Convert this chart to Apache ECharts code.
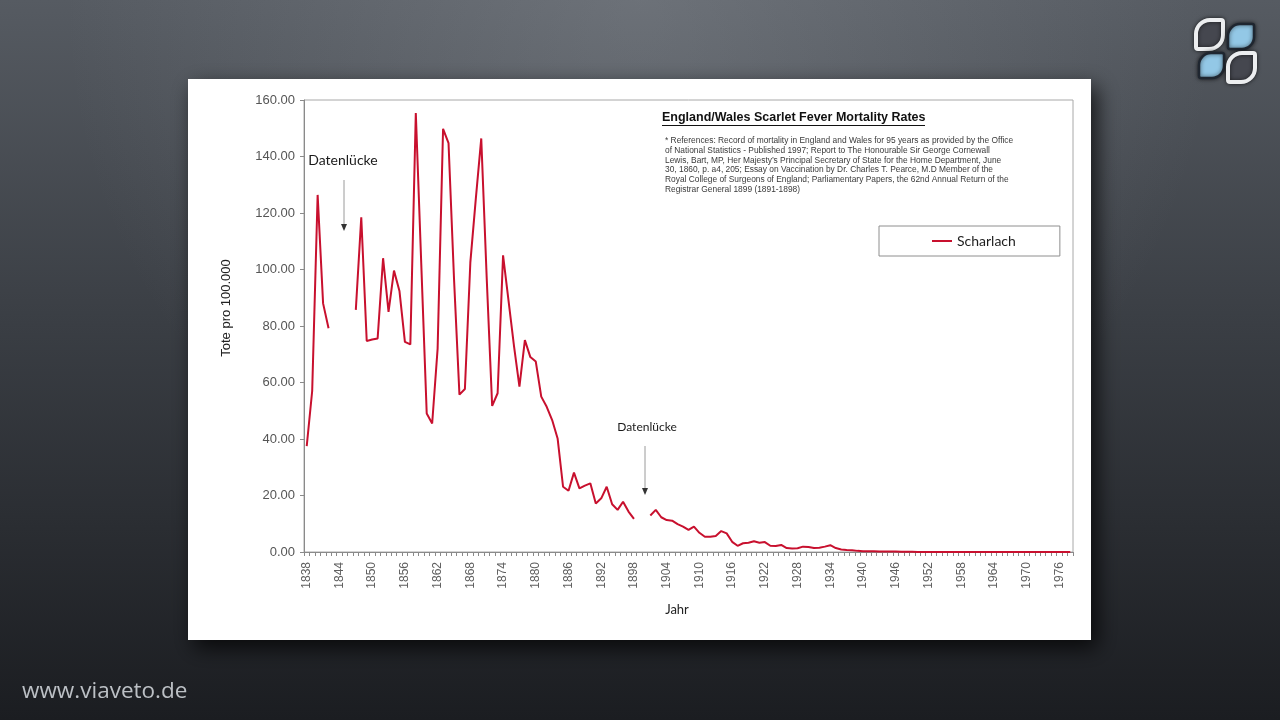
<!DOCTYPE html>
<html>
<head>
<meta charset="utf-8">
<script src="https://cdn.jsdelivr.net/npm/echarts@6/dist/echarts.min.js"></script>
<style>
html,body{margin:0;padding:0;background:#2b2e34;}
#c{width:1280px;height:720px;}
</style>
</head>
<body>
<div id="c"></div>
<script>
// ---- Data ----
const firstYear = 1838;
const lastYear = 1978;
const years = [];
for (let y = firstYear; y <= lastYear; y++) years.push(String(y));

// Scarlet fever deaths per 100,000 (England/Wales), null = data gap
const scharlach = [
  37.5, 57, 126.4, 88, 79.2,            // 1838-1842
  null, null, null, null,               // 1843-1846 gap
  85.7, 118.5, 74.7, 75.2, 75.6,        // 1847-1851
  104, 85, 99.6, 92.4, 74.4, 73.5,      // 1852-1857
  155.4, 102, 49, 45.5, 72,             // 1858-1862
  149.8, 144.7, 97, 55.7, 57.7,         // 1863-1867
  102.5, 125, 146.4, 97, 51.7,          // 1868-1872
  56.2, 105, 89, 73, 58.5,              // 1873-1877
  75, 69, 67.4, 55, 51.4,               // 1878-1882
  46.7, 40.2, 23.1, 21.7, 28.1,         // 1883-1887
  22.5, 23.5, 24.3, 17.2, 19,           // 1888-1892
  23.1, 16.9, 14.9, 17.8, 14.3, 11.7,   // 1893-1898
  null, null,                           // 1899-1900 gap
  12.9, 14.9, 12.3, 11.3, 11.1,         // 1901-1905
  9.9, 9.0, 7.8, 9.0, 6.8,              // 1906-1910
  5.4, 5.4, 5.7, 7.4, 6.6,              // 1911-1915
  3.6, 2.2, 3.1, 3.3, 3.8,              // 1916-1920
  3.3, 3.5, 2.2, 2.1, 2.5,              // 1921-1925
  1.4, 1.2, 1.3, 1.9, 1.8,              // 1926-1930
  1.4, 1.5, 1.9, 2.4, 1.4,              // 1931-1935
  0.9, 0.7, 0.6, 0.4, 0.3,              // 1936-1940
  0.3, 0.25, 0.2, 0.2, 0.2, 0.15,       // 1941-1946
  0.08, 0.06, 0.05, 0.04, 0.03,         // 1947-1951
  0.03, 0.02, 0.02, 0.02, 0.01,         // 1952-1956
  0.01, 0.01, 0.01, 0.01, 0.01,         // 1957-1961
  0.01, 0.01, 0.01, 0.01, 0.01,         // 1962-1966
  0.01, 0.01, 0.01, 0.01, 0.01,         // 1967-1971
  0.01, 0.01, 0.01, 0.01, 0.01,         // 1972-1976
  0.01, 0.01                            // 1977-1978
];

const yMin = 0, yMax = 160, yStep = 20;

const titleText = 'England/Wales Scarlet Fever Mortality Rates';
const refLines = [
  '* References: Record of mortality in England and Wales for 95 years as provided by the Office',
  'of National Statistics - Published 1997; Report to The Honourable Sir George Cornewall',
  'Lewis, Bart, MP, Her Majesty\u2019s Principal Secretary of State for the Home Department, June',
  '30, 1860, p. a4, 205; Essay on Vaccination by Dr. Charles T. Pearce, M.D Member of the',
  'Royal College of Surgeons of England; Parliamentary Papers, the 62nd Annual Return of the',
  'Registrar General 1899 (1891-1898)'
];
const gapLabel = 'Datenl\u00fccke';
const seriesName = 'Scharlach';
const yAxisTitle = 'Tote pro 100.000';
const xAxisTitle = 'Jahr';
const watermark = 'www.viaveto.de';

// ---- Chart ----
const chart = echarts.init(document.getElementById('c'), null, {renderer: 'canvas'});

const refGraphics = refLines.map((t, i) => ({
  type: 'text', z: 10,
  style: {text: t, x: 665, y: 141 + i * 9.7, align: 'left', verticalAlign: 'middle',
          font: '8.4px "Liberation Sans", Arial, sans-serif', fill: '#3a3a3a'}
}));

const option = {
  animation: false,
  backgroundColor: {
    type: 'linear', x: 0, y: 0, x2: 0, y2: 1,
    colorStops: [
      {offset: 0, color: '#565b62'},
      {offset: 0.45, color: '#3a3e44'},
      {offset: 1, color: '#1b1d21'}
    ]
  },
  grid: {
    left: 304, top: 100, width: 769, height: 452,
    show: true, backgroundColor: '#ffffff', borderColor: '#a8a8a8', borderWidth: 1
  },
  legend: {
    left: 879, top: 226,
    data: [{name: seriesName, icon: 'rect'}],
    itemWidth: 20, itemHeight: 2,
    padding: [8, 44, 8, 53],
    borderColor: '#8e8e8e', borderWidth: 1, borderRadius: 0,
    backgroundColor: '#ffffff',
    textStyle: {fontFamily: 'Lato, sans-serif', fontSize: 14, color: '#1e1e1e', lineHeight: 14}
  },
  xAxis: {
    type: 'category', data: years, boundaryGap: true,
    axisLine: {lineStyle: {color: '#8a8a8a', width: 1}},
    axisTick: {show: true, interval: 0, length: 4, lineStyle: {color: '#8a8a8a'}},
    axisLabel: {interval: 5, rotate: 90, margin: 10, color: '#606060',
                fontFamily: '"Liberation Sans", Arial, sans-serif', fontSize: 12},
    splitLine: {show: false}
  },
  yAxis: {
    type: 'value', min: yMin, max: yMax, interval: yStep,
    axisLine: {show: true, lineStyle: {color: '#8a8a8a', width: 1}},
    axisTick: {show: true, length: 4, lineStyle: {color: '#8a8a8a'}},
    axisLabel: {formatter: v => v.toFixed(2), margin: 9, color: '#555',
                fontFamily: '"Liberation Sans", Arial, sans-serif', fontSize: 13},
    splitLine: {show: false}
  },
  series: [{
    name: seriesName, type: 'line', data: scharlach,
    symbol: 'none', showSymbol: false, connectNulls: false,
    lineStyle: {color: '#c8102e', width: 2},
    itemStyle: {color: '#c8102e'}
  }],
  graphic: [
    // top highlight on background
    {type: 'rect', z: -200, silent: true,
     shape: {x: 0, y: 0, width: 1280, height: 720},
     style: {fill: {type: 'radial', x: 0.5, y: 0.0, r: 0.8,
       colorStops: [{offset: 0, color: 'rgba(160,165,172,0.30)'}, {offset: 1, color: 'rgba(160,165,172,0)'}]}}},
    // white panel with shadow
    {type: 'rect', z: -100, silent: true,
     shape: {x: 188, y: 79, width: 903, height: 561},
     style: {fill: '#ffffff', shadowBlur: 20, shadowColor: 'rgba(0,0,0,0.75)', shadowOffsetX: 6, shadowOffsetY: 8}},
    // title
    {type: 'text', z: 10,
     style: {text: titleText, x: 662, y: 118, align: 'left', verticalAlign: 'middle',
             font: 'bold 12.5px "Liberation Sans", Arial, sans-serif', fill: '#111'}},
    {type: 'line', z: 10, shape: {x1: 662, y1: 125.5, x2: 925, y2: 125.5}, style: {stroke: '#111', lineWidth: 1}},
    ...refGraphics,
    // gap annotation 1
    {type: 'text', z: 10,
     style: {text: gapLabel, x: 343, y: 160, align: 'center', verticalAlign: 'middle',
             font: '14px Lato, sans-serif', fill: '#1a1a1a'}},
    {type: 'line', z: 10, shape: {x1: 344, y1: 180, x2: 344, y2: 226}, style: {stroke: '#9a9a9a', lineWidth: 1}},
    {type: 'polygon', z: 10, shape: {points: [[341, 224], [347, 224], [344, 231]]}, style: {fill: '#333'}},
    // gap annotation 2
    {type: 'text', z: 10,
     style: {text: gapLabel, x: 647, y: 427, align: 'center', verticalAlign: 'middle',
             font: '12px Lato, sans-serif', fill: '#1a1a1a'}},
    {type: 'line', z: 10, shape: {x1: 645, y1: 446, x2: 645, y2: 490}, style: {stroke: '#9a9a9a', lineWidth: 1}},
    {type: 'polygon', z: 10, shape: {points: [[642, 488], [648, 488], [645, 495]]}, style: {fill: '#333'}},
    // axis titles
    {type: 'text', z: 10, x: 226, y: 308, rotation: Math.PI / 2,
     style: {text: yAxisTitle, x: 0, y: 0, align: 'center', verticalAlign: 'middle',
             font: '13px "Liberation Sans", Arial, sans-serif', fill: '#222'}},
    {type: 'text', z: 10,
     style: {text: xAxisTitle, x: 677, y: 610, align: 'center', verticalAlign: 'middle',
             font: '13px Lato, sans-serif', fill: '#222'}},
    // watermark
    {type: 'text', z: 10,
     style: {text: watermark, x: 22, y: 692, align: 'left', verticalAlign: 'middle',
             font: '22.5px "Open Sans", sans-serif', fill: '#bcc0c5'}},
    // logo
    {type: 'rect', z: 10, shape: {x: 1196, y: 20, width: 27, height: 29, r: [14, 2, 14, 2]},
     style: {fill: '#45474f', stroke: '#eceef0', lineWidth: 4, shadowBlur: 4, shadowColor: 'rgba(0,0,0,0.6)'}},
    {type: 'rect', z: 10, shape: {x: 1228, y: 24, width: 26, height: 25, r: [12, 2, 12, 2]},
     style: {fill: '#93c8e6', stroke: '#1f2630', lineWidth: 2.5, shadowBlur: 4, shadowColor: 'rgba(0,0,0,0.6)'}},
    {type: 'rect', z: 10, shape: {x: 1199, y: 53, width: 25, height: 25, r: [12, 2, 12, 2]},
     style: {fill: '#93c8e6', stroke: '#1f2630', lineWidth: 2.5, shadowBlur: 4, shadowColor: 'rgba(0,0,0,0.6)'}},
    {type: 'rect', z: 10, shape: {x: 1228, y: 53, width: 27, height: 29, r: [14, 2, 14, 2]},
     style: {fill: '#45474f', stroke: '#eceef0', lineWidth: 4, shadowBlur: 4, shadowColor: 'rgba(0,0,0,0.6)'}}
  ]
};

chart.setOption(option);
</script>
</body>
</html>
